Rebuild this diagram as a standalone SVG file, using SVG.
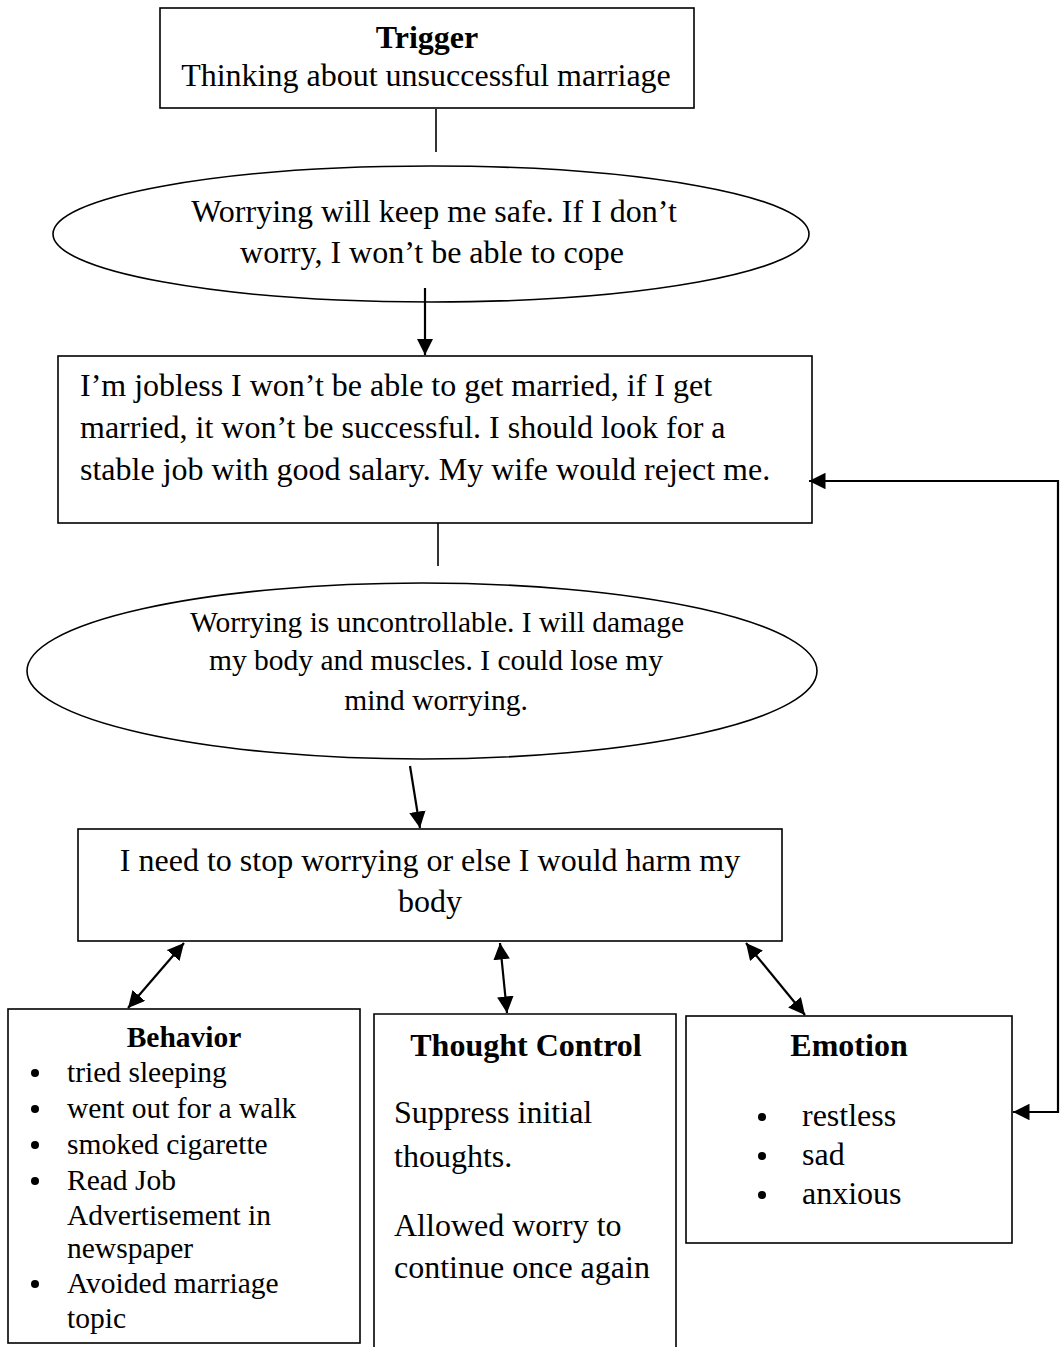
<svg xmlns="http://www.w3.org/2000/svg" width="1064" height="1347" viewBox="0 0 1064 1347">
<defs>
<style>
.box{fill:#fff;stroke:#000;stroke-width:1.6}
.t{font-family:"Liberation Serif","Times New Roman",serif;fill:#000;font-size:32px}
.s{font-size:29.5px}
.b{font-weight:bold}
.c{text-anchor:middle}
.ln{stroke:#000;stroke-width:1.6;fill:none}
.ar{stroke:#000;stroke-width:2.2;fill:none}
.dot{fill:#000}
</style>
<marker id="ah" viewBox="0 0 10 10" refX="10" refY="5" markerWidth="7.5" markerHeight="7.5" markerUnits="strokeWidth" orient="auto-start-reverse">
<path d="M0,0 L10,5 L0,10 z" fill="#000"/>
</marker>
</defs>
<rect width="1064" height="1347" fill="#fff"/>
<g id="trigger">
<rect class="box" x="160" y="8" width="534" height="100"/>
<text class="t b c" x="427" y="48">Trigger</text>
<text class="t c" x="426" y="86">Thinking about unsuccessful marriage</text>
</g>
<g id="belief1">
<ellipse class="box" cx="431" cy="234" rx="378" ry="68"/>
<text class="t c" x="434" y="222">Worrying will keep me safe. If I don’t</text>
<text class="t c" x="432" y="263">worry, I won’t be able to cope</text>
</g>
<g id="thoughts">
<rect class="box" x="58" y="356" width="754" height="167"/>
<text class="t" x="80" y="396">I’m jobless I won’t be able to get married, if I get</text>
<text class="t" x="80" y="438">married, it won’t be successful. I should look for a</text>
<text class="t" x="80" y="480">stable job with good salary. My wife would reject me.</text>
</g>
<g id="belief2">
<ellipse class="box" cx="422" cy="671" rx="395" ry="88"/>
<text class="t s c" x="437" y="632">Worrying is uncontrollable. I will damage</text>
<text class="t s c" x="436" y="670">my body and muscles. I could lose my</text>
<text class="t s c" x="436" y="710">mind worrying.</text>
</g>
<g id="stop">
<rect class="box" x="78" y="829" width="704" height="112"/>
<text class="t c" x="430" y="871">I need to stop worrying or else I would harm my</text>
<text class="t c" x="430" y="912">body</text>
</g>
<g id="behavior">
<rect class="box" x="8" y="1009" width="352" height="334"/>
<text class="t s b c" x="184" y="1047">Behavior</text>
<circle class="dot" cx="35" cy="1073" r="4"/>
<circle class="dot" cx="35" cy="1109" r="4"/>
<circle class="dot" cx="35" cy="1145" r="4"/>
<circle class="dot" cx="35" cy="1181" r="4"/>
<circle class="dot" cx="35" cy="1284" r="4"/>
<g class="t s">
<text x="67" y="1082">tried sleeping</text>
<text x="67" y="1118">went out for a walk</text>
<text x="67" y="1154">smoked cigarette</text>
<text x="67" y="1190">Read Job</text>
<text x="67" y="1225">Advertisement in</text>
<text x="67" y="1258">newspaper</text>
<text x="67" y="1293">Avoided marriage</text>
<text x="67" y="1328">topic</text>
</g>
</g>
<g id="thought-control">
<path class="box" d="M374,1347 V1014 H676 V1347"/>
<text class="t b c" x="526" y="1056">Thought Control</text>
<text class="t" x="394" y="1123">Suppress initial</text>
<text class="t" x="394" y="1167">thoughts.</text>
<text class="t" x="394" y="1236">Allowed worry to</text>
<text class="t" x="394" y="1278">continue once again</text>
</g>
<g id="emotion">
<rect class="box" x="686" y="1016" width="326" height="227"/>
<text class="t b c" x="849" y="1056">Emotion</text>
<circle class="dot" cx="762" cy="1117" r="4"/>
<circle class="dot" cx="762" cy="1156" r="4"/>
<circle class="dot" cx="762" cy="1195" r="4"/>
<g class="t">
<text x="802" y="1126">restless</text>
<text x="802" y="1165">sad</text>
<text x="802" y="1204">anxious</text>
</g>
</g>
<g id="connectors">
<line class="ln" x1="436" y1="109" x2="436" y2="152"/>
<line class="ar" x1="425" y1="288" x2="425" y2="355" marker-end="url(#ah)"/>
<line class="ln" x1="438" y1="523" x2="438" y2="566"/>
<line class="ar" x1="410" y1="766" x2="420" y2="828" marker-end="url(#ah)"/>
<line class="ar" x1="184" y1="943" x2="128" y2="1008" marker-start="url(#ah)" marker-end="url(#ah)"/>
<line class="ar" x1="500" y1="943" x2="507" y2="1013" marker-start="url(#ah)" marker-end="url(#ah)"/>
<line class="ar" x1="746" y1="943" x2="805" y2="1015" marker-start="url(#ah)" marker-end="url(#ah)"/>
<polyline class="ar" points="1013,1112 1058,1112 1058,481 809,481" marker-start="url(#ah)" marker-end="url(#ah)"/>
</g>
</svg>
